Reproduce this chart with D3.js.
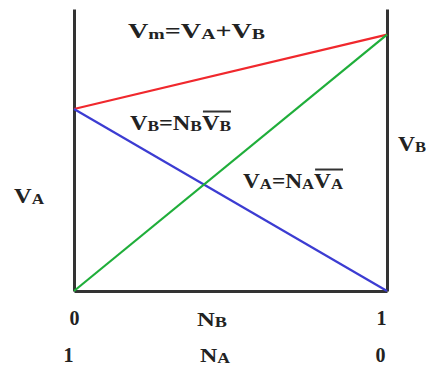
<!DOCTYPE html>
<html>
<head>
<meta charset="utf-8">
<script src="https://cdn.jsdelivr.net/npm/d3@7"></script>
<style>
  body { margin: 0; background: #fff; }
  svg { display: block; }
  text { font-family: "Liberation Serif", "Times New Roman", serif; font-weight: bold; fill: #222; }
  .domain { stroke: #333; stroke-width: 3; }
</style>
</head>
<body>
<svg id="chart" width="426" height="372"></svg>
<script>

// mole fraction of B along the x axis
const nB = [0, 1];
// partial volumes (arbitrary units)
const vA = [0.71, 0];      // blue line
const vB = [0, 1];         // green line
const vm = [0.71, 1];      // red line, Vm = VA + VB

// tick labels under the axis
const nBLabels = ['0', '1'];
const nALabels = ['1', '0'];

const svg = d3.select('#chart');

// chart scale
const xScale = d3.scaleLinear().domain([0, 1]).range([74, 387]);
const yScale = d3.scaleLinear().domain([0, 1.1]).range([291, 9]);

// left and right axis, no ticks
svg.append('g')
   .attr('transform', `translate(${xScale(0)}, 0)`)
   .call(d3.axisLeft(yScale).ticks(0).tickSizeOuter(0));
svg.append('g')
   .attr('transform', `translate(${xScale(1)}, 0)`)
   .call(d3.axisRight(yScale).ticks(0).tickSizeOuter(0));

// bottom axis with N_B row
const xAxis = d3.axisBottom(xScale)
                .tickValues(nB)
                .tickSize(0)
                .tickSizeOuter(0)
                .tickPadding(20)
                .tickFormat((d, i) => nBLabels[i]);
svg.append('g')
   .attr('transform', `translate(0, ${yScale(0)})`)
   .call(xAxis)
   .selectAll('text')
   .style('font-size', '20px')
   .attr('dx', (d, i) => i ? -6 : 0);

// second row for N_A
const xAxis2 = d3.axisBottom(xScale)
                 .tickValues(nB)
                 .tickSize(0)
                 .tickPadding(57)
                 .tickFormat((d, i) => nALabels[i]);
const g2 = svg.append('g')
   .attr('transform', `translate(0, ${yScale(0)})`)
   .call(xAxis2);
g2.select('.domain').remove();
g2.selectAll('text')
  .style('font-size', '20px')
  .attr('dx', (d, i) => i ? -7 : -6);

// draw lines
const line = d3.line()
               .x((d, i) => xScale(nB[i]))
               .y(d => yScale(d));

const series = [
  { values: vm, color: '#f0282d' },
  { values: vA, color: '#3c3cd2' },
  { values: vB, color: '#1fae3a' }
];
for (let s of series) {
  svg.append('path')
     .attr('d', line(s.values))
     .attr('fill', 'none')
     .attr('stroke', s.color)
     .attr('stroke-width', 2.2);
}

// formula text with subscripts, bar marks the overlined part
function label(x, y, size, width, parts) {
  const t = svg.append('text')
               .attr('x', x)
               .attr('y', y)
               .style('font-size', size + 'px');
  const barred = [];
  for (let p of parts) {
    const ts = t.append('tspan').text(p.t);
    if (p.sub) {
      ts.style('font-size', Math.round(size * 0.72) + 'px')
        .attr('dy', 1);
    } else {
      ts.attr('dy', p.after ? -1 : 0);
    }
    if (p.bar) barred.push(ts.node());
  }
  // the original lettering is wider than Times, stretch it
  t.attr('textLength', width).attr('lengthAdjust', 'spacingAndGlyphs');
  if (barred.length) {
    const first = barred[0];
    const last = barred[barred.length - 1];
    const x0 = first.getStartPositionOfChar(0).x;
    const n = last.getNumberOfChars();
    const x1 = last.getEndPositionOfChar(n - 1).x;
    svg.append('line')
       .attr('x1', x0 + 1)
       .attr('x2', x1)
       .attr('y1', y - size * 0.88)
       .attr('y2', y - size * 0.88)
       .attr('stroke', '#333')
       .attr('stroke-width', 2);
  }
  return t;
}

label(128, 38, 20, 137, [
  { t: 'V' }, { t: 'm', sub: true }, { t: '=V', after: true }, { t: 'A', sub: true },
  { t: '+V', after: true }, { t: 'B', sub: true }
]);

label(130, 130, 21, 101, [
  { t: 'V' }, { t: 'B', sub: true }, { t: '=N', after: true }, { t: 'B', sub: true },
  { t: 'V', after: true, bar: true }, { t: 'B', sub: true, bar: true }
]);

label(243, 188, 21, 100, [
  { t: 'V' }, { t: 'A', sub: true }, { t: '=N', after: true }, { t: 'A', sub: true },
  { t: 'V', after: true, bar: true }, { t: 'A', sub: true, bar: true }
]);

// axis names
label(14, 203, 20, 30, [{ t: 'V' }, { t: 'A', sub: true }]);
label(398, 151, 20, 28, [{ t: 'V' }, { t: 'B', sub: true }]);

label(197, 326, 19, 30, [{ t: 'N' }, { t: 'B', sub: true }]);
label(200, 362, 19, 30, [{ t: 'N' }, { t: 'A', sub: true }]);

</script>
</body>
</html>
